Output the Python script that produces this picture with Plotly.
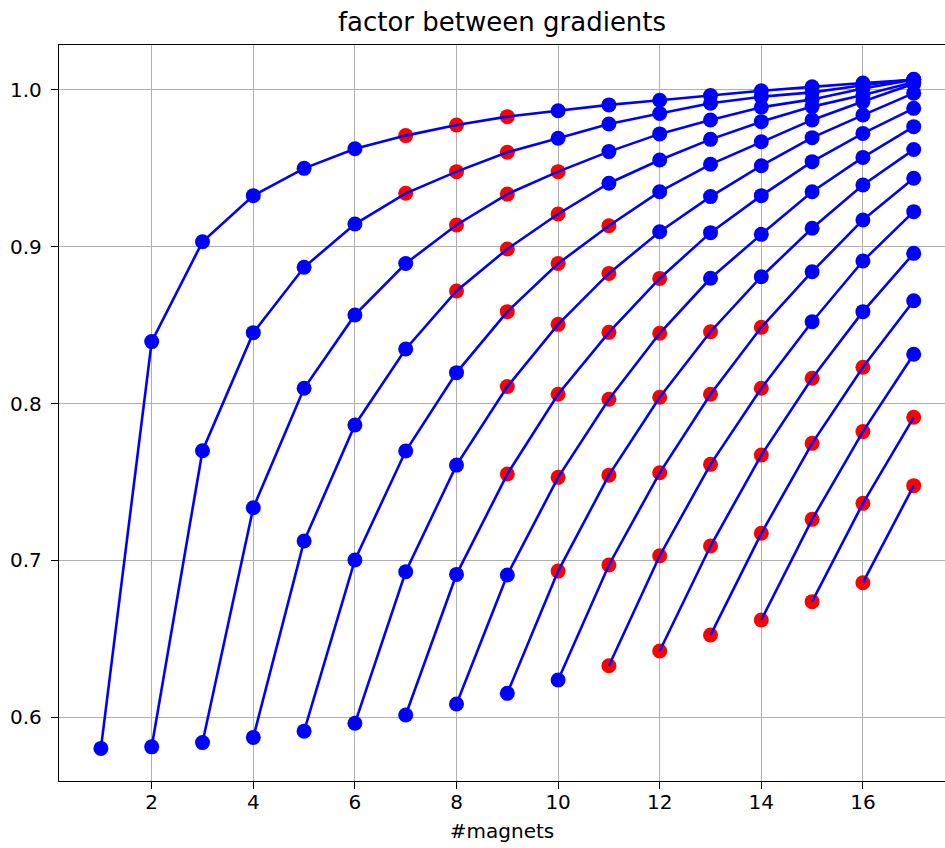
import plotly.graph_objects as go

# x positions: number of magnets
magnets = list(range(1, 18))

# factor between gradients, one series per starting number of magnets (start = 1 .. 16)
f01 = [0.580, 0.8395, 0.9032, 0.9326, 0.9500, 0.9625, 0.9709, 0.9777, 0.9830, 0.9868, 0.9905, 0.9935, 0.9965, 0.9995, 1.0020, 1.0045, 1.0065]
f02 = [0.581, 0.7699, 0.8452, 0.8869, 0.9145, 0.9341, 0.9479, 0.9603, 0.9692, 0.9783, 0.9850, 0.9915, 0.9957, 0.9985, 1.0030, 1.0068]
f03 = [0.5837, 0.7335, 0.8097, 0.8565, 0.8893, 0.9139, 0.9336, 0.9479, 0.9607, 0.9720, 0.9809, 0.9890, 0.9940, 1.0010, 1.0065]
f04 = [0.587, 0.7123, 0.7863, 0.8348, 0.8718, 0.8986, 0.9209, 0.9405, 0.9553, 0.9685, 0.9798, 0.9894, 0.9968, 1.0050]
f05 = [0.591, 0.7002, 0.7697, 0.8197, 0.8586, 0.8893, 0.9134, 0.9351, 0.9526, 0.9670, 0.9809, 0.9926, 1.0040]
f06 = [0.596, 0.6927, 0.7607, 0.8108, 0.8505, 0.8830, 0.9096, 0.9320, 0.9517, 0.9696, 0.9840, 0.9980]
f07 = [0.6013, 0.6910, 0.7550, 0.8059, 0.8454, 0.8798, 0.9090, 0.9326, 0.9543, 0.9723, 0.9883]
f08 = [0.6083, 0.6906, 0.7529, 0.8027, 0.8448, 0.8799, 0.9079, 0.9351, 0.9570, 0.9766]
f09 = [0.6151, 0.6931, 0.7543, 0.8040, 0.8458, 0.8809, 0.9118, 0.9394, 0.9620]
f10 = [0.6236, 0.6970, 0.7558, 0.8059, 0.8486, 0.8841, 0.9171, 0.9437]
f11 = [0.6327, 0.7029, 0.7612, 0.8097, 0.8522, 0.8909, 0.9224]
f12 = [0.6421, 0.7091, 0.7671, 0.8161, 0.8586, 0.8958]
f13 = [0.6523, 0.7172, 0.7746, 0.8231, 0.8656]
f14 = [0.6619, 0.7261, 0.7821, 0.8314]
f15 = [0.6736, 0.7363, 0.7912]
f16 = [0.6857, 0.7476]

# magnet counts at which each series' point is highlighted in red
red01 = [7, 8, 9]
red02 = [7, 8, 9]
red03 = [8, 9, 10]
red04 = [8, 9, 10]
red05 = [9, 10, 11]
red06 = [9, 10, 11]
red07 = [9, 10, 11, 12]
red08 = [10, 11, 12]
red09 = [10, 11, 12, 13]
red10 = [11, 12, 13, 14]
red11 = [11, 12, 13, 14]
red12 = [12, 13, 14, 15]
red13 = [13, 14, 15, 16]
red14 = [14, 15, 16]
red15 = [15, 16, 17]
red16 = [16, 17]

x_ticks = [2, 4, 6, 8, 10, 12, 14, 16]
y_ticks = [0.6, 0.7, 0.8, 0.9, 1.0]
y_ticklabels = ["0.6", "0.7", "0.8", "0.9", "1.0"]

series = [f01, f02, f03, f04, f05, f06, f07, f08, f09, f10, f11, f12, f13, f14, f15, f16]
reds = [red01, red02, red03, red04, red05, red06, red07, red08, red09, red10,
        red11, red12, red13, red14, red15, red16]

BLUE = "#0000ff"
RED = "#ff0000"
FONT = "DejaVu Sans"

fig = go.Figure()

# red highlighted points (drawn underneath the lines)
rx, ry, bx, by = [], [], [], []
for start, (ys, rl) in enumerate(zip(series, reds), start=1):
    xs = magnets[start - 1:start - 1 + len(ys)]
    for x, y in zip(xs, ys):
        if x in rl:
            rx.append(x); ry.append(y)
        else:
            bx.append(x); by.append(y)

fig.add_trace(go.Scatter(x=rx, y=ry, mode="markers",
                         marker=dict(color=RED, size=15, line=dict(width=0)),
                         showlegend=False, hoverinfo="x+y"))

for start, ys in enumerate(series, start=1):
    xs = magnets[start - 1:start - 1 + len(ys)]
    fig.add_trace(go.Scatter(x=xs, y=ys, mode="lines",
                             line=dict(color=BLUE, width=2.6),
                             showlegend=False, hoverinfo="x+y"))

fig.add_trace(go.Scatter(x=bx, y=by, mode="markers",
                         marker=dict(color=BLUE, size=15, line=dict(width=0)),
                         showlegend=False, hoverinfo="x+y"))

axis_common = dict(
    showgrid=True, gridcolor="#b0b0b0", gridwidth=1.3,
    showline=True, linecolor="black", linewidth=1.4,
    ticks="outside", ticklen=7, tickwidth=1.3, tickcolor="black",
    tickfont=dict(family=FONT, size=20, color="black"),
    zeroline=False,
)

fig.update_layout(
    width=945, height=848,
    margin=dict(l=59, r=0, t=45, b=67),
    paper_bgcolor="white", plot_bgcolor="white",
    title=dict(text="factor between gradients", x=0.5, xref="paper",
               y=1 - 22 / 848, yref="container", yanchor="middle", xanchor="center",
               font=dict(family=FONT, size=26, color="black")),
    xaxis=dict(range=[0.175, 17.616], tickvals=x_ticks, mirror=True,
               ticklabelstandoff=-4,
               title=dict(text="#magnets", font=dict(family=FONT, size=20, color="black"),
                          standoff=10),
               **axis_common),
    yaxis=dict(range=[0.5592, 1.0287], tickvals=y_ticks, ticktext=y_ticklabels,
               mirror=False, ticklabelstandoff=5, **axis_common),
)

fig.write_html("out.html")
